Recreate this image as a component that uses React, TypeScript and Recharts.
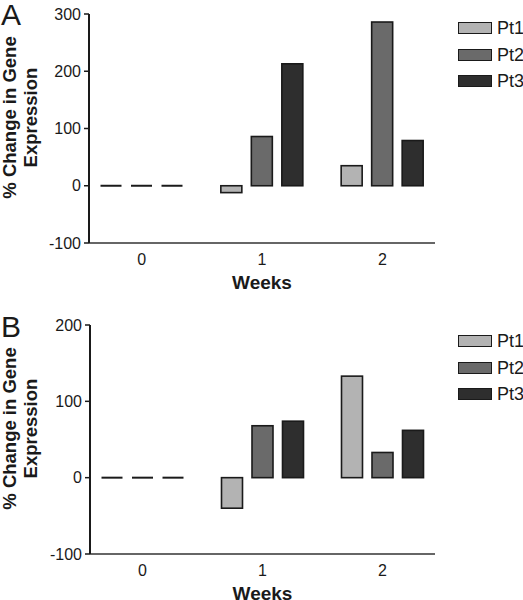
import React from "react";
import { BarChart, Bar, XAxis, YAxis, Legend, Label } from "recharts";

const weeks = ["0", "1", "2"];
const seriesNames = ["Pt1", "Pt2", "Pt3"];
const seriesColors = ["#b3b3b3", "#6a6a6a", "#2e2e2e"];

// panel A
const pt1A = [0, -12, 35];
const pt2A = [0, 86, 286];
const pt3A = [0, 213, 79];
const ticksA = [-100, 0, 100, 200, 300];

// panel B
const pt1B = [0, -40, 133];
const pt2B = [0, 68, 33];
const pt3B = [0, 74, 62];
const ticksB = [-100, 0, 100, 200];

const FONT = "'Liberation Sans', Arial, sans-serif";
const INK = "#1a1a1a";

const toRows = (a: number[], b: number[], c: number[]) =>
  weeks.map((w, i) => ({ week: w, Pt1: a[i], Pt2: b[i], Pt3: c[i] }));

const BarShape = (props: any) => {
  const { x, y, width, height, fill } = props;
  if (!height || Math.abs(height) < 0.5) {
    return <line x1={x} x2={x + width} y1={y} y2={y} stroke={INK} strokeWidth={2} />;
  }
  const top = height < 0 ? y + height : y;
  return (
    <rect x={x} y={top} width={width} height={Math.abs(height)} fill={fill} stroke={INK} strokeWidth={1.6} />
  );
};

const YTitle = (props: any) => {
  const vb = props.viewBox;
  const cy = vb.y + vb.height / 2 - 11;
  const style = { fontFamily: FONT, fontSize: 18.5, fontWeight: 700, fill: INK };
  return (
    <g>
      <text x={16} y={cy} textAnchor="middle" transform={`rotate(-90, 16, ${cy})`} style={style}>
        % Change in Gene
      </text>
      <text x={37} y={cy} textAnchor="middle" transform={`rotate(-90, 37, ${cy})`} style={style}>
        Expression
      </text>
    </g>
  );
};

const XTitle = (props: any) => {
  const vb = props.viewBox;
  return (
    <text
      x={vb.x + vb.width / 2}
      y={vb.y + 46}
      textAnchor="middle"
      style={{ fontFamily: FONT, fontSize: 19, fontWeight: 700, fill: INK }}
    >
      Weeks
    </text>
  );
};

const LegendBox = (props: any) => (
  <div style={{ display: "flex", flexDirection: "column" }}>
    {(props.payload || []).map((p: any) => (
      <div key={p.value} style={{ height: 26.5, display: "flex", alignItems: "center", whiteSpace: "nowrap" }}>
        <div
          style={{
            width: 34,
            height: 12,
            flexShrink: 0,
            boxSizing: "border-box",
            background: p.color,
            border: `1.5px solid ${INK}`,
          }}
        />
        <span style={{ marginLeft: 5, fontFamily: FONT, fontSize: 18, lineHeight: "18px", color: INK }}>
          {p.value}
        </span>
      </div>
    ))}
  </div>
);

interface PanelProps {
  letter: string;
  letterTop: number;
  data: Array<{ week: string; Pt1: number; Pt2: number; Pt3: number }>;
  ticks: number[];
  top: number;
  left: number;
  xAxisHeight: number;
  legendTop: number;
}

function Panel({ letter, letterTop, data, ticks, top, left, xAxisHeight, legendTop }: PanelProps) {
  return (
    <div style={{ position: "relative", width: 523, height: 300 }}>
      <div
        style={{
          position: "absolute",
          left: 1,
          top: letterTop,
          fontFamily: FONT,
          fontSize: 30,
          lineHeight: "30px",
          color: INK,
          zIndex: 2,
        }}
      >
        {letter}
      </div>
      <BarChart
        width={523}
        height={300}
        data={data}
        margin={{ top, right: 523 - 89 - left - 346 + (left ? 1 : 0), bottom: 0, left }}
        barSize={21}
        barGap={9.5}
      >
        <XAxis
          dataKey="week"
          height={xAxisHeight}
          padding={{ left: -7.5, right: -7.5 }}
          tickLine={false}
          tickSize={6}
          tickMargin={5}
          axisLine={{ stroke: "#666", strokeWidth: 2 }}
          tick={{ fontFamily: FONT, fontSize: 16, fill: INK }}
        >
          <Label content={<XTitle />} />
        </XAxis>
        <YAxis
          width={89}
          domain={[ticks[0], ticks[ticks.length - 1]]}
          ticks={ticks}
          interval={0}
          tickSize={5}
          tickMargin={3}
          tickLine={{ stroke: INK, strokeWidth: 1.5 }}
          axisLine={{ stroke: INK, strokeWidth: 2 }}
          tick={{ fontFamily: FONT, fontSize: 16, fill: INK }}
        >
          <Label content={<YTitle />} />
        </YAxis>
        <Legend
          layout="vertical"
          align="center"
          verticalAlign="middle"
          wrapperStyle={{ left: 458, top: legendTop, width: 70 }}
          content={<LegendBox />}
        />
        {seriesNames.map((name, i) => (
          <Bar
            key={name}
            dataKey={name}
            fill={seriesColors[i]}
            shape={<BarShape />}
            isAnimationActive={false}
          />
        ))}
      </BarChart>
    </div>
  );
}

export default function App() {
  return (
    <div
      style={{
        position: "absolute",
        left: 0,
        top: 0,
        width: 523,
        height: 600,
        overflow: "hidden",
        background: "#fff",
      }}
    >
      <Panel
        letter="A"
        letterTop={0}
        data={toRows(pt1A, pt2A, pt3A)}
        ticks={ticksA}
        top={14}
        left={0}
        xAxisHeight={57}
        legendTop={15}
      />
      <Panel
        letter="B"
        letterTop={12}
        data={toRows(pt1B, pt2B, pt3B)}
        ticks={ticksB}
        top={25}
        left={1}
        xAxisHeight={46}
        legendTop={28}
      />
    </div>
  );
}
